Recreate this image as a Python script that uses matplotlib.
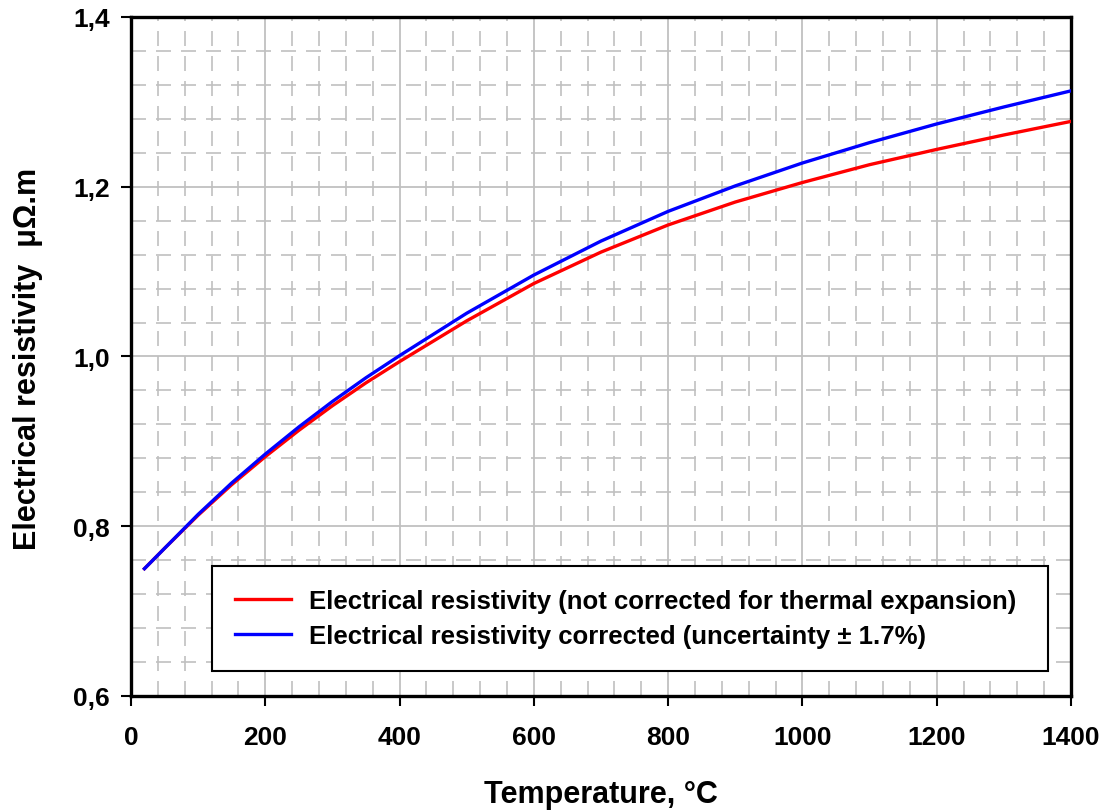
import matplotlib
matplotlib.use('Agg')
import matplotlib.pyplot as plt
from matplotlib.ticker import MultipleLocator, FuncFormatter

plt.rcParams['font.family'] = ['Liberation Sans', 'DejaVu Sans']
plt.rcParams['font.weight'] = 'bold'

# Data
temperature = [20, 50, 100, 150, 200, 250, 300, 350, 400, 500, 600, 700, 800, 900,
               1000, 1100, 1200, 1300, 1400]
rho_uncorrected = [0.750, 0.774, 0.813, 0.849, 0.882, 0.913, 0.942, 0.969, 0.994, 1.042,
                   1.086, 1.123, 1.155, 1.182, 1.205, 1.226, 1.244, 1.261, 1.277]
rho_corrected = [0.750, 0.774, 0.814, 0.851, 0.885, 0.917, 0.947, 0.975, 1.001, 1.051,
                 1.096, 1.136, 1.171, 1.201, 1.228, 1.252, 1.274, 1.294, 1.313]

label_red = 'Electrical resistivity (not corrected for thermal expansion)'
label_blue = 'Electrical resistivity corrected (uncertainty \u00b1 1.7%)'

fig, ax = plt.subplots(figsize=(11.03, 8.12), dpi=100)
fig.subplots_adjust(left=131 / 1103, right=1071 / 1103, top=1 - 18 / 812, bottom=1 - 697 / 812)

grid_col = '#c0c0c0'
ax.xaxis.set_major_locator(MultipleLocator(200))
ax.xaxis.set_minor_locator(MultipleLocator(40))
ax.yaxis.set_major_locator(MultipleLocator(0.2))
ax.yaxis.set_minor_locator(MultipleLocator(0.04))
ax.grid(which='major', color=grid_col, lw=1.3, ls='-')
ax.grid(which='minor', color=grid_col, lw=1.2, ls=(0, (9, 6)))
ax.set_axisbelow(True)

ax.plot(temperature, rho_uncorrected, color='#ff0000', lw=2.4, label=label_red, zorder=3)
ax.plot(temperature, rho_corrected, color='#0000ff', lw=2.4, label=label_blue, zorder=4)

ax.set_xlim(0, 1400)
ax.set_ylim(0.6, 1.4)

ax.yaxis.set_major_formatter(FuncFormatter(lambda v, p: f'{v:.1f}'.replace('.', ',')))
ax.tick_params(which='major', direction='out', length=7, width=1.5, labelsize=19, pad=8)
ax.tick_params(axis='x', pad=14)
ax.tick_params(which='minor', length=0)
for lab in ax.get_xticklabels() + ax.get_yticklabels():
    lab.set_fontweight('bold')
for s in ax.spines.values():
    s.set_linewidth(2.4)

ax.set_xlabel('Temperature, \u00b0C', fontsize=22, fontweight='bold')
ax.xaxis.set_label_coords(0.5, -0.122)
ax.set_ylabel('Electrical resistivity  \u03bc\u03a9.m', fontsize=22, fontweight='bold',
              ha='left')
ax.yaxis.set_label_coords(-0.094, 0.2165)

leg = ax.legend(loc='lower left', bbox_to_anchor=(0.086, 0.037, 0.8895, 0.156),
                mode='expand', fancybox=False, framealpha=1, edgecolor='black',
                prop={'size': 18.5, 'weight': 'bold'}, handlelength=2.2,
                handletextpad=0.7, borderpad=0.9, labelspacing=0.4, borderaxespad=0)
leg.get_frame().set_linewidth(1.5)

fig.savefig('out.png', dpi=100)
